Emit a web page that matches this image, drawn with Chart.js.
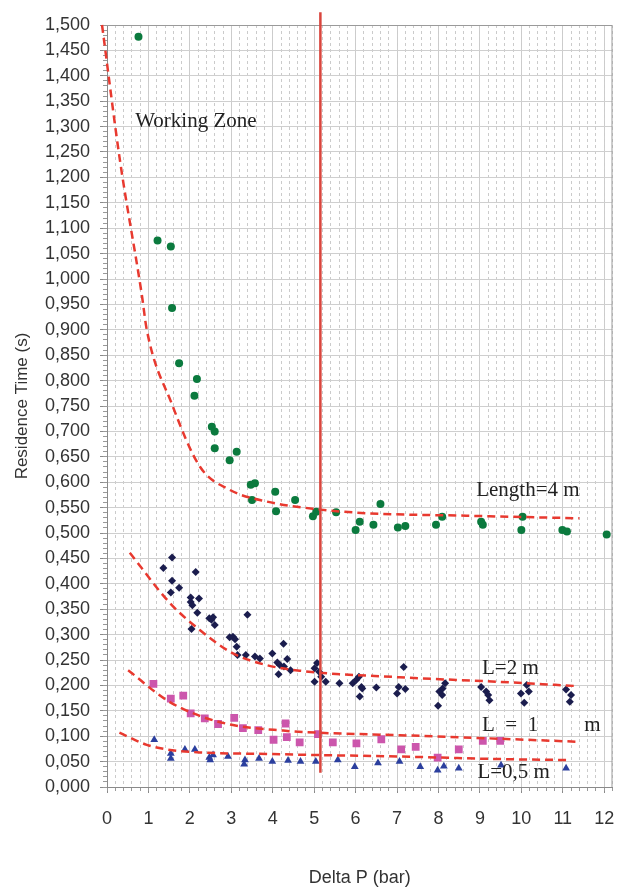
<!DOCTYPE html>
<html>
<head>
<meta charset="utf-8">
<script src="https://cdn.jsdelivr.net/npm/chart.js@4.4.1/dist/chart.umd.min.js"></script>
<style>
  html, body { margin: 0; padding: 0; background: #fff; }
</style>
</head>
<body>
<canvas id="chart" width="618" height="887"></canvas>
<script>
// measured points, [deltaP (bar), residence time (s)]
const len4Pts = [[0.76,1.477],[1.22,1.076],[1.54,1.064],[1.57,0.943],[1.74,0.834],[2.17,0.803],[2.11,0.770],
  [2.53,0.709],[2.60,0.700],[2.60,0.667],[2.96,0.643],[3.13,0.660],[3.47,0.595],[3.57,0.598],[3.50,0.565],
  [4.06,0.581],[4.08,0.543],[4.54,0.565],[4.97,0.533],[5.05,0.542],[5.53,0.541],[6.00,0.506],[6.10,0.522],
  [6.43,0.516],[6.60,0.557],[7.02,0.511],[7.20,0.514],[7.94,0.516],[8.09,0.532],[9.03,0.522],[9.07,0.516],
  [10.00,0.506],[10.03,0.532],[10.99,0.506],[11.10,0.503],[12.06,0.497]];
const len2Pts = [[1.36,0.431],[1.57,0.452],[1.57,0.406],[1.54,0.383],[1.74,0.392],[2.14,0.423],[2.02,0.373],
  [2.02,0.364],[2.06,0.358],[2.22,0.371],[2.18,0.343],[2.04,0.311],[2.47,0.332],[2.52,0.329],[2.56,0.334],
  [2.60,0.319],[2.96,0.295],[3.04,0.296],[3.09,0.291],[3.13,0.276],[3.15,0.260],[3.35,0.260],[3.39,0.339],
  [3.57,0.257],[3.69,0.253],[3.99,0.263],[4.11,0.245],[4.17,0.240],[4.14,0.222],[4.26,0.282],[4.35,0.252],
  [4.43,0.230],[4.27,0.237],[5.01,0.234],[5.07,0.244],[5.12,0.227],[5.01,0.207],[5.17,0.217],[5.28,0.207],
  [5.61,0.204],[5.93,0.204],[6.02,0.211],[6.08,0.217],[6.14,0.197],[6.10,0.178],[6.16,0.194],[6.50,0.196],
  [7.04,0.197],[7.00,0.184],[7.16,0.236],[7.20,0.193],[7.99,0.160],[8.02,0.188],[8.09,0.181],[8.16,0.204],
  [8.10,0.194],[9.03,0.197],[9.15,0.188],[9.23,0.171],[9.20,0.181],[9.99,0.184],[10.07,0.166],[10.13,0.201],
  [10.18,0.188],[11.08,0.192],[11.20,0.181],[11.17,0.168]];
const len1Pts = [[1.12,0.203],[1.54,0.174],[1.84,0.180],[2.02,0.145],[2.36,0.135],[2.68,0.124],[3.07,0.136],
  [3.28,0.116],[3.65,0.112],[4.02,0.093],[4.31,0.125],[4.34,0.098],[4.65,0.088],[5.09,0.104],[5.45,0.088],
  [6.02,0.086],[6.62,0.094],[7.10,0.074],[7.45,0.079],[7.98,0.058],[8.49,0.074],[9.07,0.091],[9.49,0.091]];
const len05Pts = [[1.14,0.093],[1.54,0.066],[1.54,0.056],[1.88,0.074],[2.12,0.074],[2.47,0.058],[2.56,0.063],
  [2.49,0.053],[2.92,0.060],[3.33,0.053],[3.31,0.045],[3.67,0.056],[3.99,0.050],[4.37,0.052],[4.67,0.050],
  [5.04,0.050],[5.57,0.053],[5.98,0.040],[6.54,0.047],[7.06,0.050],[7.56,0.040],[7.98,0.033],[8.13,0.041],
  [8.49,0.037],[9.51,0.043],[11.08,0.037]];

// fitted curves (dashed)
const fit4 = [[-0.12,1.500],[0.31,1.235],[0.84,0.969],[0.96,0.900],[1.56,0.755],[2.24,0.631],[2.96,0.585],
  [3.85,0.562],[5.05,0.547],[6.26,0.539],[8.67,0.534],[11.40,0.529]];
const fit2 = [[0.55,0.461],[1.52,0.362],[2.24,0.309],[3.04,0.263],[3.85,0.240],[4.65,0.229],[7.06,0.216],
  [9.47,0.207],[11.28,0.199]];
const fit1 = [[0.51,0.230],[1.44,0.171],[2.24,0.140],[3.04,0.122],[4.25,0.111],[5.05,0.107],[7.06,0.102],
  [9.47,0.095],[11.40,0.089]];
const fit05 = [[0.30,0.107],[0.96,0.083],[1.44,0.074],[2.24,0.068],[3.85,0.065],[5.05,0.063],[7.06,0.060],
  [9.47,0.055],[11.16,0.053]];

// working zone limit
const limitX = [5.15, 5.15];
const limitY = [0.028, 1.525];

const xTicks = [0,1,2,3,4,5,6,7,8,9,10,11,12];

const pts = a => a.map(p => ({x: p[0], y: p[1]}));
const fmt = v => v.toFixed(3).replace('.', ',');

const notes = [
  {text: 'Working Zone', x: 0.68, y: 1.31},
  {text: 'Length=4 m', x: 8.91, y: 0.583},
  {text: 'L=2 m', x: 9.05, y: 0.234},
  {text: 'L  =  1', x: 9.05, y: 0.122},
  {text: 'm', x: 11.52, y: 0.122},
  {text: 'L=0,5 m', x: 8.94, y: 0.028}
];

const notesPlugin = {
  id: 'notes',
  beforeDatasetsDraw(chart) {
    const {ctx, chartArea: a} = chart;
    ctx.save();
    ctx.strokeStyle = '#9a9a9a';
    ctx.lineWidth = 1;
    ctx.beginPath();
    ctx.moveTo(a.left, a.top + 0.5);
    ctx.lineTo(a.right - 0.5, a.top + 0.5);
    ctx.lineTo(a.right - 0.5, a.bottom);
    ctx.stroke();
    ctx.restore();
  },
  afterDatasetsDraw(chart) {
    const {ctx, scales} = chart;
    ctx.save();
    ctx.font = '21px "Liberation Serif", "Times New Roman", serif';
    ctx.fillStyle = '#222';
    ctx.textBaseline = 'middle';
    ctx.textAlign = 'left';
    notes.forEach(n => {
      ctx.fillText(n.text, scales.x.getPixelForValue(n.x), scales.y.getPixelForValue(n.y));
    });
    ctx.restore();
  }
};

const trend = (data, clip) => ({
  type: 'line', data: pts(data), showLine: true, borderColor: '#e8392f', borderWidth: 2.5,
  borderDash: [8, 5], pointRadius: 0, cubicInterpolationMode: 'monotone', fill: false,
  clip: clip ? false : undefined
});

const noPad = s => { s.paddingLeft = 0; s.paddingRight = 0; s.paddingTop = 0; s.paddingBottom = 0; };

new Chart(document.getElementById('chart'), {
  type: 'scatter',
  data: {
    datasets: [
      {label: 'limit', type: 'line', data: limitX.map((x, i) => ({x: x, y: limitY[i]})), showLine: true,
        borderColor: '#d9453d', borderWidth: 2.5, pointRadius: 0, clip: false},
      trend(fit4, true), trend(fit2), trend(fit1), trend(fit05),
      {label: 'Length=4 m', data: pts(len4Pts), pointStyle: 'circle', pointRadius: 4,
        backgroundColor: '#0b7a3e', borderColor: '#0b7a3e', borderWidth: 0},
      {label: 'L=2 m', data: pts(len2Pts), pointStyle: 'rectRot', pointRadius: 4,
        backgroundColor: '#1b1d4e', borderColor: '#1b1d4e', borderWidth: 0},
      {label: 'L=1 m', data: pts(len1Pts), pointStyle: 'rect', pointRadius: 5.5,
        backgroundColor: '#cc56ac', borderColor: '#cc56ac', borderWidth: 0},
      {label: 'L=0,5 m', data: pts(len05Pts), pointStyle: 'triangle', pointRadius: 4.5,
        backgroundColor: '#2b3f9e', borderColor: '#2b3f9e', borderWidth: 0}
    ]
  },
  options: {
    responsive: false,
    animation: false,
    layout: {padding: {top: 25, right: 5, left: 0, bottom: 0}},
    plugins: {legend: {display: false}, tooltip: {enabled: false}},
    scales: {
      x: {
        type: 'linear', position: 'bottom', weight: 1, min: 0, max: 12.2,
        afterBuildTicks: s => { s.ticks = xTicks.map(v => ({value: v})); },
        ticks: {stepSize: 1, includeBounds: false, autoSkip: false, maxRotation: 0, padding: 15,
          color: '#333', font: {family: '"Liberation Sans", Arial, sans-serif', size: 18}},
        grid: {color: '#cdcdcd', tickLength: 6, tickColor: '#8a8a8a'},
        border: {color: '#8a8a8a'},
        title: {display: true, text: 'Delta P (bar)', color: '#333', padding: {top: 0, bottom: 0},
          font: {family: '"Liberation Sans", Arial, sans-serif', size: 18, lineHeight: 1}},
        afterFit: s => { s.height = 100; noPad(s); }
      },
      x2: {
        type: 'linear', position: 'bottom', weight: 0, min: 0, max: 12.2,
        ticks: {stepSize: 0.2, display: false, autoSkip: false},
        grid: {color: '#cbcbcb', tickLength: 4, tickColor: '#999'},
        border: {display: false, dash: [3, 3]},
        afterFit: s => { s.height = 0; noPad(s); }
      },
      y: {
        type: 'linear', position: 'left', weight: 1, min: 0, max: 1.5,
        ticks: {stepSize: 0.05, autoSkip: false, padding: 10, color: '#333', callback: v => fmt(v),
          font: {family: '"Liberation Sans", Arial, sans-serif', size: 18}},
        grid: {color: '#cfcfcf', tickLength: 7, tickColor: '#8a8a8a'},
        border: {color: '#8a8a8a'},
        title: {display: true, text: 'Residence Time (s)', color: '#333', padding: {top: 14, bottom: 0},
          font: {family: '"Liberation Sans", Arial, sans-serif', size: 17, lineHeight: 1}},
        afterFit: s => { s.width = 107; noPad(s); }
      },
      y2: {
        type: 'linear', position: 'left', weight: 0, min: 0, max: 1.5,
        ticks: {stepSize: 0.01, display: false, autoSkip: false},
        grid: {drawOnChartArea: false, tickLength: 4, tickColor: '#999'},
        border: {display: false},
        afterFit: s => { s.width = 0; noPad(s); }
      }
    }
  },
  plugins: [notesPlugin]
});
</script>
</body>
</html>
